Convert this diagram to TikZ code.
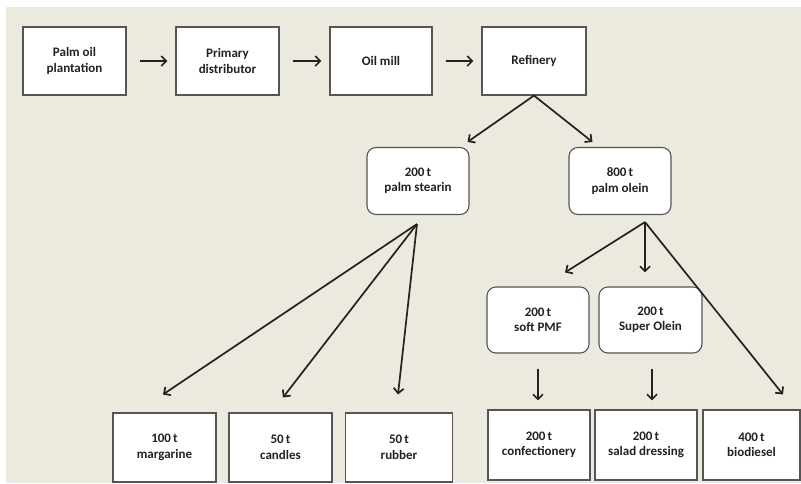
\documentclass[tikz,border=0pt]{standalone}
\usepackage{fontspec}
\setmainfont{Carlito}
\usepackage{tikz}
\usetikzlibrary{arrows.meta}

\definecolor{paper}{HTML}{ECE9DF}
\definecolor{boxline}{HTML}{555555}
\definecolor{ink}{HTML}{222222}

\begin{document}
\begin{tikzpicture}[%
	x=1pt, y=-1pt,
	font=\fontsize{13}{15.5}\selectfont\bfseries,
	stage/.style={draw=boxline, line width=1.1pt, fill=white, text=ink, align=center,
		minimum width=103pt, minimum height=68pt, inner sep=0pt},
	oil/.style={stage, rounded corners=9pt, minimum width=102pt, minimum height=67pt},
	flow/.style={-{Straight Barb[length=5pt,width=10pt]}, line width=1.7pt, draw=ink}]
	% page and beige sheet
	\fill[white] (0,0) rectangle (801,483);
	\fill[paper] (6,7) rectangle (801,483);
	\useasboundingbox (0,0) rectangle (801,483);

	\node[stage] (plant) at (74.5,61) {Palm oil\\plantation};
	\node[stage] (dist) at (227.5,61) {Primary\\distributor};
	\node[stage, minimum width=102pt] (mill) at (381,61) {Oil mill};
	\node[stage, minimum width=104pt] (ref) at (534,61) {Refinery};

	\node[oil] (stearin) at (418,181) {200\,t\\palm stearin};
	\node[oil] (olein) at (620,181) {800\,t\\palm olein};
	\node[oil, minimum height=66pt] (pmf) at (538,320) {200\,t\\soft PMF};
	\node[oil, minimum width=103pt, minimum height=66pt] (super) at (650.5,320) {200\,t\\Super Olein};

	\node[stage, minimum height=69pt] (margarine) at (164.5,447.5) {100\,t\\margarine};
	\node[stage, minimum height=69pt] (candles) at (280.5,447.5) {50\,t\\candles};
	\node[stage, minimum width=107pt, minimum height=69pt] (rubber) at (399,447.5) {50\,t\\rubber};
	\node[stage, minimum width=102pt, minimum height=70pt] (confect) at (539,445) {200\,t\\confectionery};
	\node[stage, minimum width=102pt, minimum height=70pt] (salad) at (646,445) {200\,t\\salad dressing};
	\node[stage, minimum width=97pt, minimum height=70pt] (biodiesel) at (751.5,445) {400\,t\\biodiesel};

	% fan-out points under the rounded boxes
	\coordinate (sfan) at ([shift={(-1,9)}]stearin.south);
	\coordinate (ofan) at ([shift={(25,7)}]olein.south);

	\draw[flow, shorten <=13pt, shorten >=8pt] (plant) -- (dist);
	\draw[flow, shorten <=13pt, shorten >=8pt] (dist) -- (mill);
	\draw[flow, shorten <=13pt, shorten >=8pt] (mill) -- (ref);

	\draw[flow] (ref.south) -- ([shift={(-2,-5)}]stearin.north east);
	\draw[flow] (ref.south) -- ([shift={(24,-5)}]olein.north west);

	\draw[flow] (sfan) -- ([shift={(-1.5,-18)}]margarine.north);
	\draw[flow] (sfan) -- ([shift={(2.5,-15)}]candles.north);
	\draw[flow] (sfan) -- ([shift={(-1,-18)}]rubber.north);

	\draw[flow] (ofan) -- ([shift={(27,-14)}]pmf.north);
	\draw[flow] (ofan) -- ([shift={(-5.5,-14)}]super.north);
	\draw[flow] (ofan) -- ([shift={(31.5,-15)}]biodiesel.north);

	\draw[flow] ([shift={(0,15)}]pmf.south) -- ([shift={(-1,-9)}]confect.north);
	\draw[flow] ([shift={(1.5,15)}]super.south) -- ([shift={(6,-9)}]salad.north);
\end{tikzpicture}
\end{document}
